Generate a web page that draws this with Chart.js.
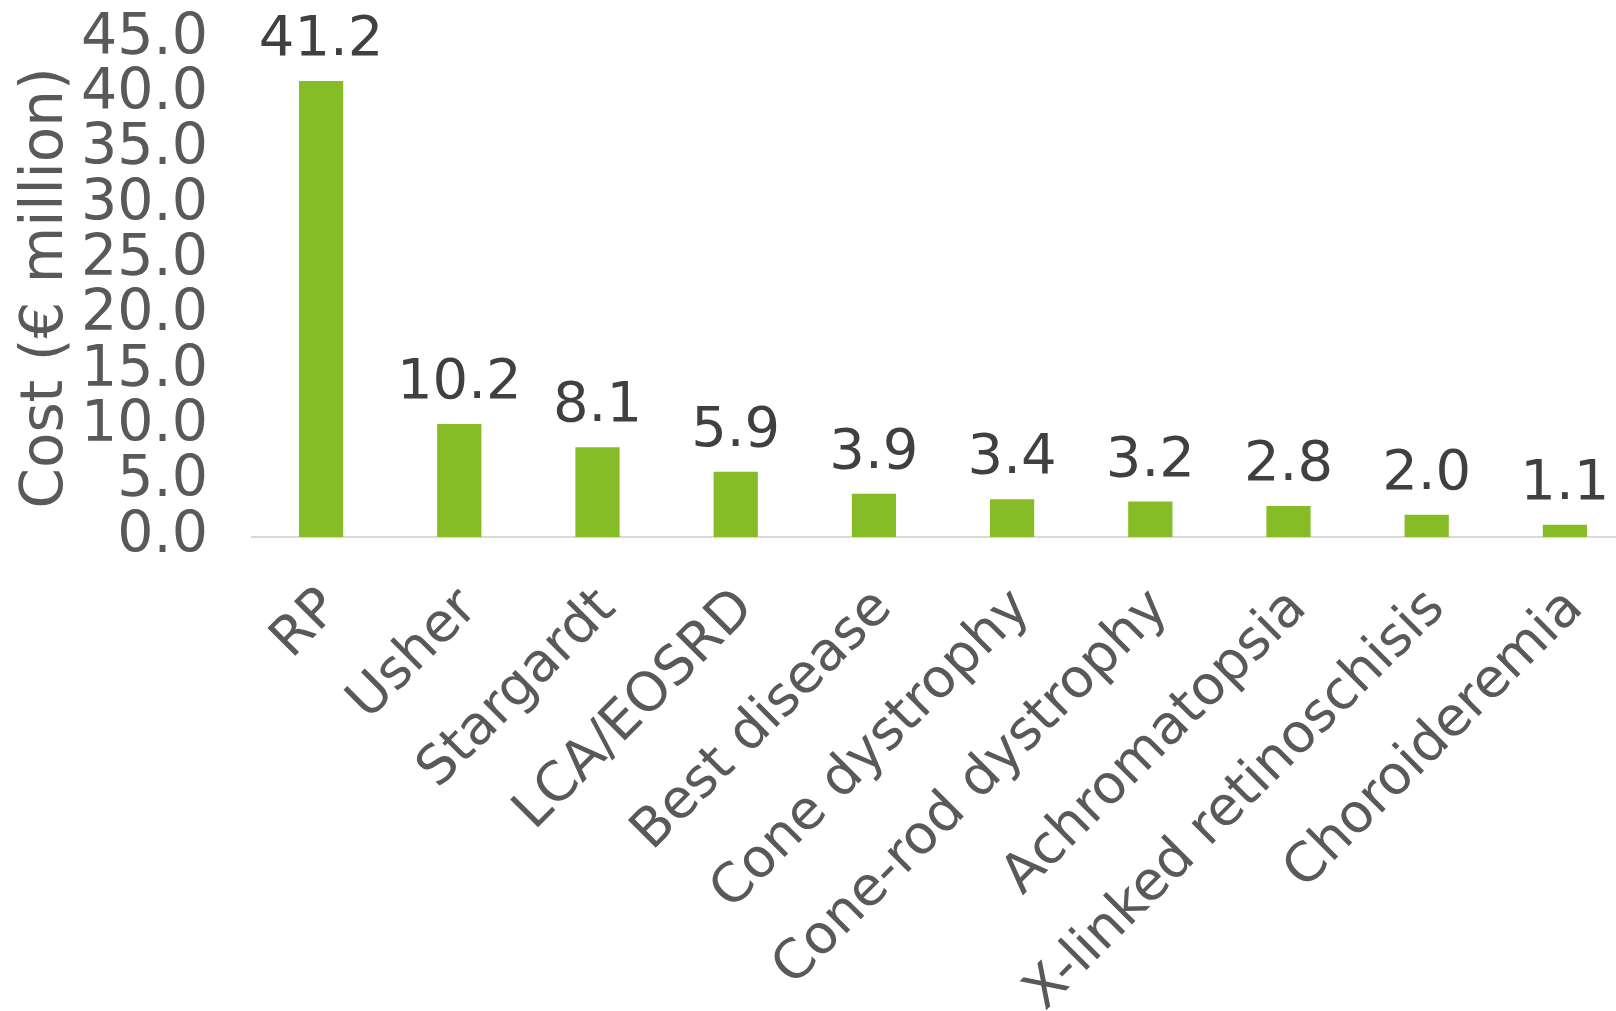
<!DOCTYPE html>
<html>
<head>
<meta charset="utf-8">
<script src="https://cdn.jsdelivr.net/npm/chart.js@4"></script>
<style>
  html, body { margin: 0; padding: 0; background: #fff; overflow: hidden; }
  #wrap { width: 1634px; height: 1011px; }
</style>
</head>
<body>
<div id="wrap"><canvas id="chart"></canvas></div>
<script>
// categories and values (€ million)
const categories = ['RP', 'Usher', 'Stargardt', 'LCA/EOSRD', 'Best disease', 'Cone dystrophy',
    'Cone-rod dystrophy', 'Achromatopsia', 'X-linked retinoschisis', 'Choroideremia'];
const costs = [41.2, 10.2, 8.1, 5.9, 3.9, 3.4, 3.2, 2.8, 2.0, 1.1];
const yTicks = [0, 5, 10, 15, 20, 25, 30, 35, 40, 45];

const FONT = 'DejaVu Sans, Verdana, sans-serif';

// draws the value above each bar
const valueLabels = {
    id: 'valueLabels',
    afterDatasetsDraw(chart) {
        const ctx = chart.ctx;
        const meta = chart.getDatasetMeta(0);
        ctx.save();
        ctx.font = '56px ' + FONT;
        ctx.fillStyle = '#404040';
        ctx.textAlign = 'center';
        ctx.textBaseline = 'alphabetic';
        meta.data.forEach((bar, i) => {
            ctx.fillText(costs[i].toFixed(1), bar.x, bar.y - 26);
        });
        ctx.restore();
    }
};

new Chart(document.getElementById('chart'), {
    type: 'bar',
    data: {
        labels: categories,
        datasets: [{
            data: costs,
            backgroundColor: '#86BC25',
            barPercentage: 0.32,
            categoryPercentage: 1
        }]
    },
    options: {
        responsive: true,
        maintainAspectRatio: false,
        animation: false,
        layout: { padding: { top: 39, left: 0, right: 0, bottom: 0 } },
        plugins: { legend: { display: false }, tooltip: { enabled: false } },
        scales: {
            x: {
                grid: { display: false },
                border: { display: true, color: '#D9D9D9', width: 2 },
                ticks: {
                    color: '#595959',
                    font: { family: FONT, size: 54 },
                    minRotation: 45,
                    maxRotation: 45,
                    autoSkip: false,
                    padding: 32,
                    labelOffset: 10
                },
                afterFit: (scale) => {
                    scale.height = 474;
                    scale.paddingLeft = 0;
                    scale.paddingRight = 0;
                }
            },
            y: {
                min: 0,
                max: 45,
                grid: { display: false },
                border: { display: false },
                afterBuildTicks: (scale) => { scale.ticks = yTicks.map(v => ({ value: v })); },
                ticks: {
                    color: '#595959',
                    font: { family: FONT, size: 57 },
                    autoSkip: false,
                    padding: 36,
                    callback: (v) => Number(v).toFixed(1)
                },
                title: {
                    display: true,
                    text: 'Cost (€ million)',
                    color: '#595959',
                    font: { family: FONT, size: 58 },
                    padding: { top: 12, bottom: 0 }
                },
                afterFit: (scale) => {
                    scale.width = 252;
                    scale.paddingTop = 0;
                    scale.paddingBottom = 0;
                }
            }
        }
    },
    plugins: [valueLabels]
});
</script>
</body>
</html>
